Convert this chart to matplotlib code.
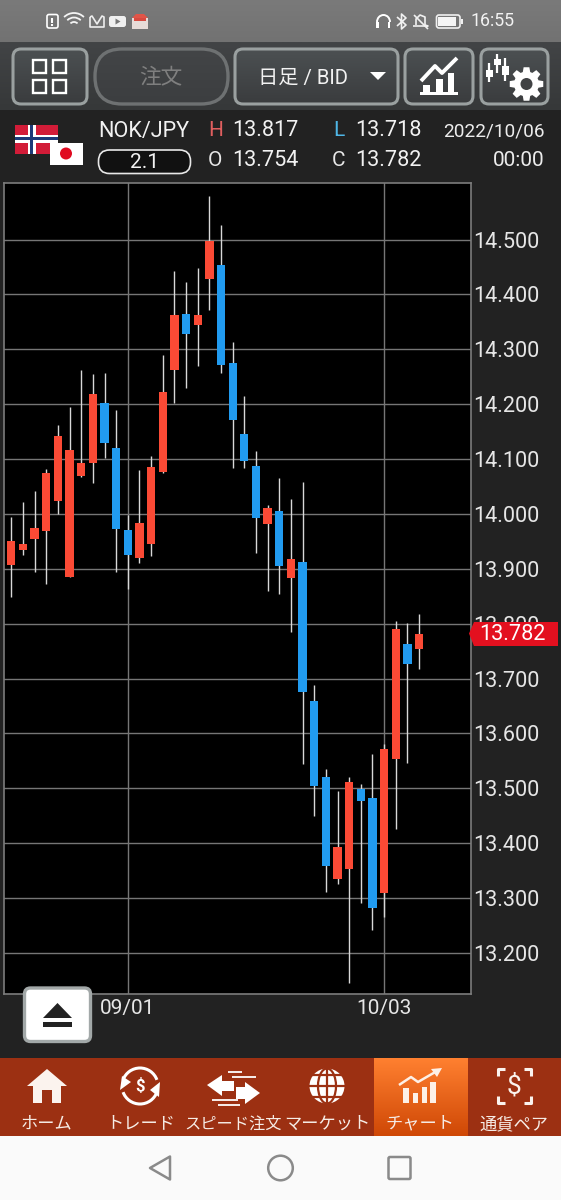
import numpy as np
import matplotlib
matplotlib.use("Agg")
from matplotlib import pyplot as plt
from matplotlib.patches import Rectangle, FancyBboxPatch, Circle, Polygon, Arc, Ellipse

plt.rcParams["font.family"] = ["Roboto", "Noto Sans CJK JP", "DejaVu Sans"]

# daily candles NOK/JPY
opens = [13.906, 13.935, 13.954, 13.969, 14.024, 13.885, 14.069, 14.092, 14.202, 14.120,
         13.971, 13.919, 13.945, 14.077, 14.263, 14.365, 14.344, 14.428, 14.453, 14.275,
         14.145, 14.087, 13.982, 14.006, 13.883, 13.913, 13.659, 13.521, 13.335, 13.353,
         13.499, 13.482, 13.309, 13.554, 13.763, 13.754]
highs = [13.995, 14.022, 14.041, 14.082, 14.162, 14.195, 14.263, 14.255, 14.256, 14.190,
         13.998, 14.080, 14.105, 14.290, 14.443, 14.422, 14.449, 14.579, 14.526, 14.314,
         14.215, 14.114, 14.017, 14.065, 14.027, 14.058, 13.689, 13.536, 13.495, 13.521,
         13.508, 13.562, 13.580, 13.805, 13.802, 13.817]
lows = [13.848, 13.926, 13.895, 13.872, 14.000, 13.885, 14.068, 14.056, 14.101, 13.895,
        13.863, 13.911, 13.923, 14.074, 14.203, 14.229, 14.270, 14.372, 14.256, 14.084,
        14.084, 13.928, 13.860, 13.854, 13.784, 13.545, 13.449, 13.311, 13.326, 13.146,
        13.291, 13.241, 13.266, 13.426, 13.547, 13.718]
closes = [13.951, 13.946, 13.975, 14.075, 14.142, 14.116, 14.092, 14.218, 14.130, 13.972,
          13.925, 13.983, 14.085, 14.222, 14.363, 14.328, 14.363, 14.497, 14.271, 14.172,
          14.096, 13.993, 14.010, 13.905, 13.917, 13.675, 13.505, 13.359, 13.393, 13.511,
          13.476, 13.282, 13.572, 13.791, 13.726, 13.782]

price_ticks = [13.2, 13.3, 13.4, 13.5, 13.6, 13.7, 13.8, 13.9, 14.0, 14.1, 14.2, 14.3, 14.4, 14.5]
date_positions = [10, 32]
date_labels = ["09/01", "10/03"]
last_price = "13.782"

tab_labels = ["ホーム", "トレード", "スピード注文", "マーケット", "チャート", "通貨ペア"]
tab_centers = [47, 141, 233.5, 327, 420, 514]

W, H = 561, 1200
fig = plt.figure(figsize=(W / 100, H / 100), dpi=100, facecolor="#222222")


def pixel_axes(zorder):
    a = fig.add_axes([0, 0, 1, 1], zorder=zorder)
    a.set_xlim(0, W)
    a.set_ylim(H, 0)
    a.axis("off")
    a.patch.set_alpha(0)
    return a


bg = pixel_axes(0)
ui = pixel_axes(2)


def rect(a, x0, y0, x1, y1, color, **kw):
    p = Rectangle((x0, y0), x1 - x0, y1 - y0, fc=color, ec="none", **kw)
    a.add_patch(p)
    return p


def gradient(a, x0, y0, x1, y1, top, bottom, clip=None):
    c0 = np.array(matplotlib.colors.to_rgb(top))
    c1 = np.array(matplotlib.colors.to_rgb(bottom))
    t = np.linspace(0, 1, 64)[:, None, None]
    img = c0[None, None, :] * (1 - t) + c1[None, None, :] * t
    im = a.imshow(img, extent=(x0, x1, y1, y0), aspect="auto", interpolation="bilinear", zorder=1)
    if clip is not None:
        im.set_clip_path(clip)
    a.set_xlim(0, W)
    a.set_ylim(H, 0)


def button(a, x0, y0, x1, y1, edge="#9aa0a0", radius=8, top="#4c5052", bottom="#3a3c3e", lw=2.2):
    p = FancyBboxPatch((x0, y0), x1 - x0, y1 - y0, boxstyle=f"round,pad=0,rounding_size={radius}",
                       fc="none", ec=edge, lw=lw, zorder=3)
    a.add_patch(p)
    gradient(a, x0, y0, x1, y1, top, bottom, clip=p)


def line(a, xs, ys, color="white", lw=1.5, **kw):
    a.plot(xs, ys, color=color, lw=lw, solid_capstyle=kw.pop("cap", "butt"), **kw)


# page background bands
gradient(bg, 0, 0, W, 42, "#7a7a7a", "#727272")
gradient(bg, 0, 42, W, 110, "#424446", "#363839")
rect(bg, 0, 110, W, 1058, "#222222")
rect(bg, 0, 1058, W, 1136, "#9c3012")
gradient(bg, 374, 1058, 467.5, 1136, "#ff8030", "#cf4806")
rect(bg, 0, 1136, W, H, "#fafafa")

# the chart itself
ax = fig.add_axes([3.7 / W, (H - 994.3) / H, 467.6 / W, 811.3 / H], zorder=1, facecolor="black")
x = np.arange(len(opens))
o = np.array(opens)
c = np.array(closes)
colors = ["#fb4a35" if b >= a else "#219bf0" for a, b in zip(o, c)]
ax.vlines(x, lows, highs, color="#d8d8d8", lw=1.0, zorder=3)
ax.bar(x, np.abs(c - o), bottom=np.minimum(o, c), width=0.71, color=colors, zorder=4)
ax.set_xlim(-0.652, 39.48)
ax.set_ylim(13.1246, 14.603)
ax.set_yticks(price_ticks, [f"{v:.3f}" for v in price_ticks])
ax.set_xticks(date_positions, date_labels)
ax.yaxis.tick_right()
ax.tick_params(axis="both", length=0, colors="#e6e6e6", labelsize=15.6)
ax.tick_params(axis="y", pad=1.0)
ax.tick_params(axis="x", pad=3.5, labelsize=15)
ax.grid(True, color="#767676", lw=1.0, zorder=1)
for s in ax.spines.values():
    s.set_color("#7c7c7c")
    s.set_linewidth(1.2)

# last price tag
ui.add_patch(Polygon([(469, 633.5), (474, 622), (558, 622), (558, 646), (474, 646)], fc="#e3101f", ec="none", zorder=4))
ui.text(512.5, 634, last_price, color="white", fontsize=15.6, ha="center", va="center", zorder=5)

# status bar
ui.add_patch(FancyBboxPatch((47, 14.5), 11, 13.5, boxstyle="round,pad=0,rounding_size=2", fc="none", ec="white", lw=1.2))
line(ui, [52.5, 52.5], [17.5, 23], lw=1.5)
line(ui, [52.5, 52.5], [24.3, 26], lw=1.5)
for r in [5, 9.5, 14]:
    ui.add_patch(Arc((74, 27), 2 * r, 2 * r, theta1=225, theta2=315, ec="#f4f4f4", lw=1.3))
line(ui, [90, 92, 97, 102, 104, 104, 90, 90], [17, 16, 24, 16, 17, 27, 27, 17], color="#eeeeee", lw=1.2)
ui.add_patch(FancyBboxPatch((109, 16), 17, 11, boxstyle="round,pad=0,rounding_size=2.5", fc="#f0f0f0", ec="none"))
ui.add_patch(Polygon([(115.5, 18.5), (115.5, 24.5), (120.5, 21.5)], fc="#777777", ec="none"))
rect(ui, 132, 18, 148, 29, "#e8dcd8")
ui.add_patch(Polygon([(132, 18), (136, 14), (144, 14), (148, 18)], fc="#e05548", ec="none"))
rect(ui, 134, 18, 146, 21, "#d84a40")
ui.add_patch(Arc((383.5, 22), 13, 14, theta1=180, theta2=360, ec="white", lw=1.4))
rect(ui, 376.5, 22, 379, 28, "white")
rect(ui, 388, 22, 390.5, 28, "white")
line(ui, [397, 406, 401.5, 401.5, 406, 397], [17, 25, 29, 14, 18, 26], color="#f0f0f0", lw=1.2)
line(ui, [416, 416, 420, 425, 425, 428, 413], [25, 19, 15, 17, 25, 26, 26], color="#f0f0f0", lw=1.2)
line(ui, [414, 428], [15, 29], color="#f0f0f0", lw=1.2)
ui.add_patch(FancyBboxPatch((436.5, 15), 23.5, 13, boxstyle="round,pad=0,rounding_size=2.5", fc="none", ec="#f0f0f0", lw=1.2))
rect(ui, 438.5, 17, 456, 26, "#f4f4f4")
rect(ui, 461, 19, 463, 24, "#f0f0f0")
ui.text(493, 21.5, "16:55", color="#f2f2f2", fontsize=12.8, ha="center", va="center")

# toolbar buttons
button(ui, 13, 49, 87, 104)
for bx in [33, 53]:
    for by in [60, 80]:
        ui.add_patch(Rectangle((bx, by), 13.5, 13, fc="none", ec="white", lw=1.7, zorder=4))
button(ui, 95, 49, 228, 104, edge="#6e7172", radius=27, top="#434547", bottom="#3c3e40", lw=2.4)
ui.text(161, 77.5, "注文", color="#7f7f7f", fontsize=15.6, ha="center", va="center", zorder=4)
button(ui, 235, 49, 398, 104)
ui.text(258, 78, "日足 / BID", color="#f2f2f2", fontsize=14.6, ha="left", va="center", zorder=4)
ui.add_patch(Polygon([(370, 72), (386, 72), (378, 80)], fc="white", ec="none", zorder=4))

button(ui, 405, 49, 473, 104)
rect(ui, 420, 92, 458, 95, "white", zorder=4)
for bx0, bx1, by in [(423, 430, 85), (436, 443, 79), (448, 454, 73)]:
    rect(ui, bx0, by, bx1, 93, "white", zorder=4)
line(ui, [421, 435, 442, 457], [81, 66, 73, 58], lw=2.8, zorder=4)

button(ui, 481, 49, 548, 104)
for cx, y0, y1, b0, b1 in [(489.5, 63, 82, 70, 77), (497.5, 54, 73, 59, 65), (505.5, 58, 81, 66, 75)]:
    line(ui, [cx, cx], [y0, y1], lw=1.6, zorder=4)
    rect(ui, cx - 3.3, b0, cx + 3.3, b1, "white", zorder=4)
gear_t = np.linspace(0, 2 * np.pi, 8, endpoint=False)
gear_pts = []
for t in gear_t:
    for dt, r in [(-0.3, 12.5), (-0.17, 17), (0.17, 17), (0.3, 12.5)]:
        gear_pts.append((526.5 + r * np.cos(t + dt), 84 + r * np.sin(t + dt)))
ui.add_patch(Polygon(gear_pts, fc="white", ec="none", zorder=4))
ui.add_patch(Circle((526.5, 84), 6, fc="#404244", ec="none", zorder=5))

# pair header
rect(ui, 15, 125, 58, 154, "#d21c38")
rect(ui, 28, 125, 36, 154, "white")
rect(ui, 15, 134.5, 58, 142.5, "white")
rect(ui, 30.5, 125, 33.5, 154, "#1e3a78")
rect(ui, 15, 137, 58, 140, "#1e3a78")
rect(ui, 50, 143, 83, 165, "white")
ui.add_patch(Circle((66, 153.5), 6, fc="#e00a20", ec="none"))
ui.text(98.5, 131.5, "NOK/JPY", color="#f2f2f2", fontsize=15.6, ha="left", va="center")
ui.add_patch(FancyBboxPatch((98.5, 150), 92, 23.5, boxstyle="round,pad=0,rounding_size=11", fc="#111111", ec="#e8e8e8", lw=1.2))
ui.text(144.5, 162.5, "2.1", color="#f2f2f2", fontsize=15, ha="center", va="center")
for label, lx, col, value, vx, ly in [("H", 208.5, "#e05f5f", "13.817", 232.5, 131),
                                       ("O", 207.5, "#e8e8e8", "13.754", 232.5, 161),
                                       ("L", 333, "#4fb6e6", "13.718", 355.5, 131),
                                       ("C", 331.5, "#e8e8e8", "13.782", 355.5, 161)]:
    ui.text(lx, ly, label, color=col, fontsize=15, ha="left", va="center")
    ui.text(vx, ly, value, color="#f2f2f2", fontsize=15.6, ha="left", va="center")
ui.text(545, 131, "2022/10/06", color="#ececec", fontsize=13.7, ha="right", va="center")
ui.text(545, 161, "00:00", color="#ececec", fontsize=15, ha="right", va="center")

# eject button
ui.add_patch(FancyBboxPatch((24.5, 988), 66, 53.5, boxstyle="round,pad=0,rounding_size=6", fc="white", ec="#a2a8a8", lw=2.4, zorder=4))
ui.add_patch(Polygon([(43, 1018), (72, 1018), (57.5, 1003)], fc="#222222", ec="none", zorder=5))
rect(ui, 43, 1022, 72, 1026.5, "#222222", zorder=5)

# bottom tabs
for label, cx in zip(tab_labels, tab_centers):
    size = 11.7 if len(label) == 6 else 12.4
    ui.text(cx, 1124, label, color="#f6ece6", fontsize=size, ha="center", va="center")

# home icon
ui.add_patch(Polygon([(27, 1086), (47, 1069), (67, 1086), (61, 1086), (61, 1103), (52, 1103),
                      (52, 1090), (42, 1090), (42, 1103), (33, 1103), (33, 1086)], fc="#fbf3ee", ec="none"))
# trade icon
ui.add_patch(Arc((140, 1086), 36, 36, theta1=200, theta2=340, ec="white", lw=2.2))
ui.add_patch(Arc((140, 1086), 36, 36, theta1=20, theta2=160, ec="white", lw=2.2))
ui.add_patch(Polygon([(120, 1090), (131, 1082), (122, 1076)], fc="white", ec="none"))
ui.add_patch(Polygon([(160, 1082), (150, 1090), (159, 1097)], fc="white", ec="none"))
ui.text(140, 1086, "$", color="white", fontsize=12, ha="center", va="center", fontweight="bold")
# speed order icon
ui.add_patch(Polygon([(207, 1085), (222, 1075), (222, 1081), (234, 1081), (234, 1091), (222, 1091), (222, 1096)], fc="white", ec="none"))
ui.add_patch(Polygon([(260, 1093), (245, 1082), (245, 1087), (236, 1087), (236, 1099), (245, 1099), (245, 1104)], fc="white", ec="none"))
line(ui, [228, 242], [1072, 1072], lw=1.3)
line(ui, [232, 256], [1077, 1077], lw=1.3)
line(ui, [212, 238], [1100, 1100], lw=1.3)
line(ui, [218, 240], [1105, 1105], lw=1.3)
# market globe icon
ui.add_patch(Circle((327, 1086), 17.5, fc="white", ec="none"))
ui.add_patch(Ellipse((327, 1086), 18, 35, fc="none", ec="#9c3012", lw=1.6))
line(ui, [327, 327], [1068, 1104], color="#9c3012", lw=1.6)
for ly in [1075, 1086, 1097]:
    line(ui, [309, 345], [ly, ly], color="#9c3012", lw=1.6)
# active chart icon
for bx0, bx1, by in [(403.5, 409, 1088), (413, 418, 1093), (422, 427, 1087), (430, 436, 1082)]:
    rect(ui, bx0, by, bx1, 1103, "#fdf0e6")
line(ui, [399, 411, 418, 437], [1085, 1077, 1082, 1071], color="#fdf0e6", lw=1.8)
ui.add_patch(Polygon([(431, 1069), (442, 1068), (437, 1077)], fc="#fdf0e6", ec="none"))
# currency pair icon
for bx, by, dx, dy in [(498, 1069, 1, 1), (531, 1069, -1, 1), (498, 1103, 1, -1), (531, 1103, -1, -1)]:
    line(ui, [bx + dx * 7, bx, bx], [by, by, by + dy * 7], lw=2.2, color="#fbf3ee")
ui.text(514.5, 1086, "$", color="#fbf3ee", fontsize=19, ha="center", va="center")

# android nav bar
ui.add_patch(Polygon([(150, 1168), (170, 1156.5), (170, 1179.5)], fc="none", ec="#8a8a8a", lw=1.8, joinstyle="round"))
ui.add_patch(Circle((280.5, 1168), 12.3, fc="none", ec="#8a8a8a", lw=1.8))
ui.add_patch(FancyBboxPatch((388.5, 1157), 22, 22, boxstyle="round,pad=0,rounding_size=1.5", fc="none", ec="#8a8a8a", lw=1.8))

plt.savefig("out.png", dpi=100)
